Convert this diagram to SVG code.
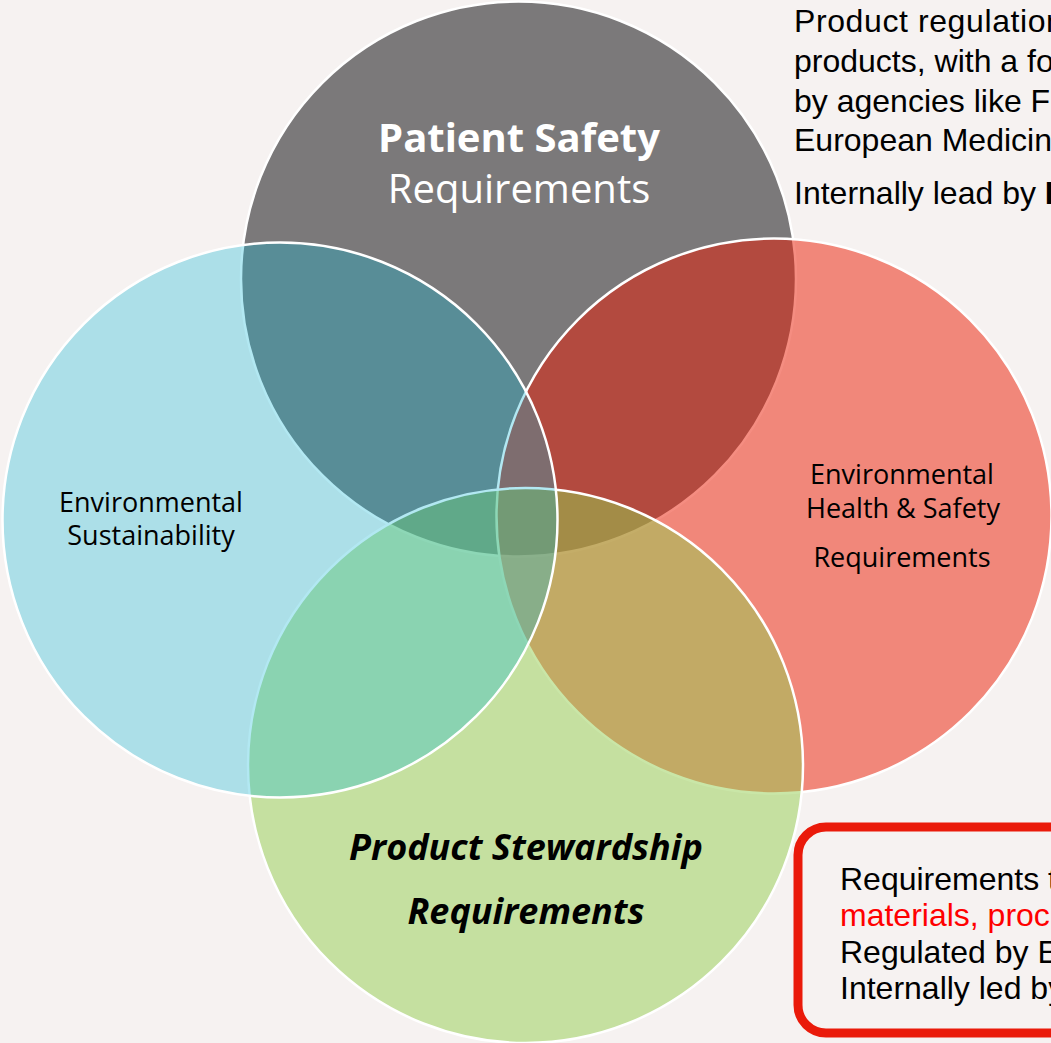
<svg xmlns="http://www.w3.org/2000/svg" width="1051" height="1043" viewBox="0 0 1051 1043">
  <style>
    .ring { stroke: #ffffff; stroke-width: 2.5; }
    .lbl { font-family: "Open Sans", "Noto Sans", sans-serif; text-anchor: middle; }
    .note { font-family: "Liberation Sans", Arial, sans-serif; font-size: 32px; fill: #000000; }
    .note .hot { fill: #ff0000; }
  </style>
  <rect width="1051" height="1043" fill="#f6f2f1"/>

  <!-- Venn circles, bottom layer first -->
  <g id="patient-safety">
    <circle class="ring" cx="518.5" cy="279" r="277.5" fill="#7b797a"/>
    <text class="lbl" x="519" y="152" font-size="40" font-weight="bold" fill="#ffffff">Patient Safety</text>
    <text class="lbl" x="519" y="203" font-size="40" fill="#ffffff">Requirements</text>
  </g>

  <g id="ehs">
    <circle class="ring" cx="774" cy="516" r="277.5" fill="rgb(235,28,3)" fill-opacity="0.5"/>
    <text class="lbl" x="902" y="484" font-size="27" fill="#000000">Environmental</text>
    <text class="lbl" x="903" y="518" font-size="27" fill="#000000">Health &amp; Safety</text>
    <text class="lbl" x="902" y="567" font-size="27" fill="#000000">Requirements</text>
  </g>

  <g id="product-stewardship">
    <circle class="ring" cx="525.5" cy="765.5" r="277.5" fill="rgb(147,206,79)" fill-opacity="0.5"/>
    <text class="lbl" x="526" y="860" font-size="36" font-weight="bold" font-style="italic" fill="#000000">Product Stewardship</text>
    <text class="lbl" x="526" y="924" font-size="36" font-weight="bold" font-style="italic" fill="#000000">Requirements</text>
  </g>

  <g id="sustainability">
    <circle class="ring" cx="280" cy="520" r="277.5" fill="rgb(17,182,216)" fill-opacity="0.32"/>
    <text class="lbl" x="151" y="512" font-size="27" fill="#000000">Environmental</text>
    <text class="lbl" x="151" y="545" font-size="27" fill="#000000">Sustainability</text>
  </g>

  <!-- Regulation note, top right -->
  <g id="note-patient-safety">
    <text class="note" x="794" y="32" letter-spacing="0.6">Product regulation</text>
    <text class="note" x="794" y="72">products, with a fo</text>
    <text class="note" x="794" y="112">by agencies like F</text>
    <text class="note" x="794" y="151">European Medicin</text>
    <text class="note" x="794" y="204">Internally lead by <tspan font-weight="bold">F</tspan></text>
  </g>

  <!-- Stewardship note, bottom right -->
  <g id="note-stewardship">
    <rect x="798" y="827" width="300" height="206" rx="28" fill="none" stroke="#ea1a0a" stroke-width="9"/>
    <text class="note" x="840" y="890">Requirements t</text>
    <text class="note" x="840" y="926"><tspan class="hot">materials, proc</tspan></text>
    <text class="note" x="840" y="963">Regulated by E</text>
    <text class="note" x="840" y="999">Internally led by</text>
  </g>
</svg>
